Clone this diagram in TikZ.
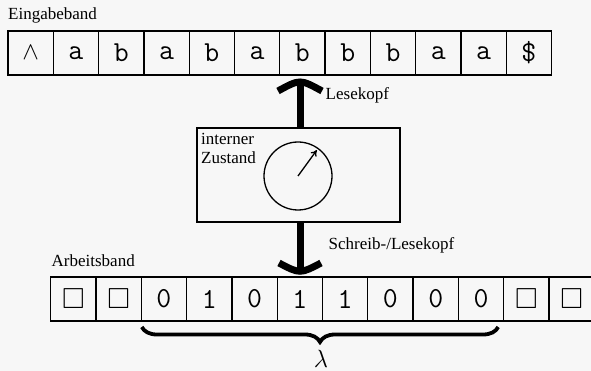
\documentclass[tikz,border=0pt]{standalone}
\usepackage{amssymb}
\usepackage{fontspec}
\setmainfont{Liberation Serif}
\usetikzlibrary{positioning,decorations.pathreplacing,arrows.meta}
\definecolor{bgclr}{RGB}{247,247,247}
\tikzset{ %
  ,>={To[length=6pt,width=7pt]}
  ,every node/.style={font=\fontsize{17}{18.5}\selectfont, inner sep=0}
  ,zelle/.style={draw, line width=1.3pt, minimum width=45.3pt, minimum height=44pt, outer sep=0, font=\ttfamily\fontsize{29}{29}\selectfont}
  ,beschr/.style={anchor=base west}
  ,kopf/.style={line width=7pt}
  ,klammer/.style={decorate, decoration={brace, mirror, amplitude=15pt}, line width=3.8pt}
}

\begin{document}
\begin{tikzpicture}[x=1pt, y=-1pt]
  \useasboundingbox[fill=bgclr] (0,0) rectangle (591,371);
  \node[beschr] (eb) at (8,20) {Eingabeband};
  \foreach \s [count=\i] in {$\wedge$,a,b,a,b,a,b,b,b,a,a,\$}
    \node[zelle] (e\i) at ({8+45.3*(\i-0.5)},53) {\s};
  \node[beschr] (ab) at (51.5,266.5) {Arbeitsband};
  \foreach \s [count=\i] in {$\square$,$\square$,0,1,0,1,1,0,0,0,$\square$,$\square$}
    \node[zelle] (a\i) at ({50.7+45.3*(\i-0.5)},299) {\s};

  \node[draw, line width=1.3pt, minimum width=203pt, minimum height=94pt] (zustand) at (298.5,175) {};
  \node[beschr, align=left] (iz) at (201,163.5) {interner\\Zustand};
  \node[draw, circle, line width=1.3pt, minimum size=68pt] (uhr) at (298,176) {};
  \draw[->, line width=1.3pt] (uhr.center) -- ++(-54:32);

  \coordinate (lk) at (300,85);
  \coordinate (slk) at (300,268.5);
  \draw[kopf] (zustand.north -| lk) -- (lk);
  \draw[kopf] (278,91) .. controls (300,79) .. (322,91);
  \node[beschr] (lkt) at (325.5,100) {Lesekopf};
  \draw[kopf] (zustand.south -| slk) -- (slk);
  \draw[kopf] (279,263) .. controls (300,274) .. (321,263);
  \node[beschr] (slkt) at (328.5,250) {Schreib-/Lesekopf};

  \draw[klammer] ([shift={(0.5pt,-6pt)}]a3.south west) -- ([shift={(-5.5pt,-6pt)}]a10.south east);
  \node[anchor=north, font=\fontsize{29}{29}\selectfont] (lam) at (321,350) {$\lambda$};
\end{tikzpicture}
\end{document}
